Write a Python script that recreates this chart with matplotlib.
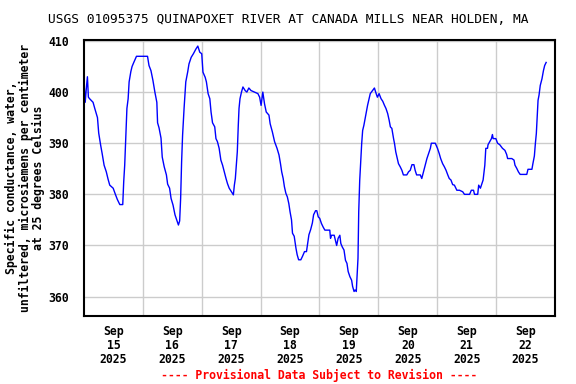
import matplotlib.pyplot as plt

# hours since Sep 15 2025 00:00 and specific conductance (uS/cm)
hours = [0, 0.5, 1.0, 1.4, 1.8, 2.3, 3.7, 4.4, 5.5, 6.0, 6.8, 7.4, 8.2, 9.1, 9.8,
         10.5, 11.9, 12.8, 13.6, 14.6, 15.8, 16.2, 16.6, 17.1, 17.5, 18.0, 18.4,
         19.1, 19.6, 20.3, 21.4, 23.5, 25.9, 26.5, 27.3, 28.1, 28.9, 29.7, 30.0,
         30.6, 31.4, 31.9, 32.7, 33.6, 34.1, 34.9, 35.5, 36.3, 37.1, 37.8, 38.5,
         39.0, 39.4, 39.8, 40.2, 40.8, 41.5, 42.3, 42.8, 43.7, 44.6, 45.6, 46.4,
         47.2, 48.0, 48.5, 49.4, 49.9, 50.6, 51.3, 51.8, 52.4, 53.3, 53.8, 54.4,
         55.1, 55.8, 56.5, 57.2, 57.9, 58.5, 59.2, 60.1, 60.9, 61.3, 61.7, 62.1,
         62.5, 62.9, 63.2, 63.6, 64.2, 64.8, 65.7, 66.4, 67.2, 68.1, 69.5, 70.9,
         71.6, 72.2, 72.9, 73.6, 74.3, 75.4, 75.9, 76.8, 77.7, 78.7, 79.5, 80.1,
         80.6, 81.2, 81.7, 82.3, 82.9, 83.5, 84.0, 84.6, 85.0, 85.7, 86.4, 86.9,
         87.5, 88.4, 89.1, 89.9, 90.7, 91.2, 91.7, 92.4, 93.1, 93.6, 94.4, 94.9,
         95.5, 96.1, 96.8, 97.5, 98.2, 100.2, 100.5, 100.9, 102.0, 102.5, 103.0,
         103.6, 104.3, 104.7, 105.3, 106.0, 106.6, 107.2, 107.7, 108.4, 109.1,
         109.5, 110.1, 110.5, 111.0, 111.3, 111.7, 112.0, 112.4, 112.8, 113.2,
         113.6, 114.1, 114.6, 115.1, 115.6, 116.2, 116.7, 117.6, 118.4, 118.9,
         119.6, 120.3, 121.1, 121.8, 122.5, 123.1, 123.8, 124.4, 124.9, 125.5,
         126.2, 126.6, 127.1, 127.7, 128.2, 128.9, 129.6, 130.2, 131.6, 132.3,
         133.0, 133.7, 134.5, 135.0, 135.6, 137.1, 137.7, 138.4, 139.1, 139.8,
         140.5, 141.2, 141.6, 143.2, 144.1, 144.8, 145.4, 146.2, 146.9, 147.6,
         148.3, 148.9, 149.6, 150.3, 151.0, 152.0, 153.1, 154.4, 155.1, 157.2,
         157.9, 158.8, 159.2, 160.5, 160.9, 161.6, 162.0, 162.7, 163.4, 163.8,
         164.5, 164.7, 165.4, 166.1, 166.5, 166.8, 167.9, 168.6, 169.5, 170.6,
         171.6, 172.3, 172.7, 174.4, 175.3, 175.7, 176.4, 177.1, 177.8, 180.5,
         181.0, 182.6, 183.0, 183.6, 184.0, 184.4, 184.7, 185.1, 185.5, 186.0,
         186.7, 187.3, 187.8, 188.4]
values = [402, 398, 401, 403, 399, 398.7, 398, 396.8, 395, 392, 389.6, 388, 385.7,
          384.4, 383, 381.8, 381.2, 380, 379, 378, 378, 382.5, 385.7, 391.6, 396.8,
          398.7, 402, 404, 405, 405.8, 407, 407, 407, 405.2, 404.2, 402.3, 400, 398,
          394, 393, 391, 387.3, 385.4, 383.8, 382, 381.2, 379.2, 377.9, 376, 375,
          374, 374.8, 379.2, 386.4, 391.6, 396.8, 402, 404, 405.5, 406.8, 407.5,
          408.4, 409, 407.8, 407.5, 403.9, 402.9, 402, 399.7, 398.7, 396.1, 394,
          393.2, 390.9, 390.3, 389, 386.7, 385.7, 384.4, 383.1, 382.1, 381.2, 380.5,
          379.9, 381.8, 383.1, 385.7, 388.3, 393.5, 396.8, 398.7, 400, 401, 400.3,
          400, 400.8, 400.3, 400, 399.7, 399, 397.4, 400, 397.7, 396.1, 395.5, 393.8,
          392.2, 390.3, 389, 387.7, 386, 384.4, 383.1, 381.5, 380.2, 379.5, 378.2,
          376.6, 375, 372.4, 371.8, 369.5, 368.2, 367.2, 367.2, 367.9, 368.8, 368.8,
          370.5, 372.1, 373.1, 374.4, 376, 376.8, 376.8, 375.6, 375.3, 374.3, 373.6,
          373, 373, 371.4, 372, 372, 371, 370, 371.4, 372, 370.4, 369.7, 369.1,
          367.1, 366.5, 364.9, 363.9, 363.2, 362, 361, 361.3, 361, 363.9, 367.5,
          376.6, 382.7, 386.4, 389.9, 392.5, 393.5, 394.8, 396.1, 397.4, 398.7,
          399.7, 400.3, 400.8, 400, 399, 399.7, 398.7, 398.2, 397.4, 396.8, 395.8,
          394.5, 393.2, 392.9, 390.9, 389.9, 388.3, 387, 386, 385.4, 384.7, 383.8,
          383.8, 384.4, 384.7, 385.8, 385.8, 384.7, 383.8, 383.8, 383.1, 384.4,
          385.7, 387, 388, 389, 390, 390, 389, 388, 387, 386, 385.4, 384.7, 383.8,
          383.1, 382.8, 381.9, 381.8, 380.8, 380.8, 380.5, 380, 380, 380.8, 380.8,
          380, 380, 381.8, 381.2, 381.8, 382.8, 385.7, 389, 389, 389.7, 390.3, 390.9,
          391.7, 390.9, 390.9, 390, 389.7, 389, 388.6, 387.8, 387, 387, 386.7, 385.7,
          385.1, 384.4, 383.9, 383.9, 384.9, 384.9, 386, 387.5, 389.9, 391.9, 394.8,
          398.4, 399.4, 401.3, 402.6, 404.2, 405.2, 405.8]

day_labels = ['Sep\n15\n2025', 'Sep\n16\n2025', 'Sep\n17\n2025', 'Sep\n18\n2025',
              'Sep\n19\n2025', 'Sep\n20\n2025', 'Sep\n21\n2025', 'Sep\n22\n2025']
y_ticks = [360, 370, 380, 390, 400, 410]

mono = 'DejaVu Sans Mono'

fig = plt.figure(figsize=(5.76, 3.84), dpi=100)
ax = fig.add_axes([0.1458, 0.177, 0.8177, 0.719])

ax.plot(hours, values, color='#0000ff', linewidth=1.0)

ax.set_xlim(0, 192)
ax.set_ylim(356.2, 410.2)

# gridlines at midnight, labels at noon
ax.set_xticks([24 * i for i in range(1, 8)])
ax.set_xticklabels([])
ax.set_xticks([12 + 24 * i for i in range(8)], minor=True)
ax.set_xticklabels(day_labels, minor=True, fontfamily=mono, fontweight='bold',
                   fontsize=8.3, linespacing=1.1)
ax.set_yticks(y_ticks)
ax.set_yticklabels([str(v) for v in y_ticks], fontfamily=mono, fontweight='bold',
                   fontsize=8.3)
ax.tick_params(axis='both', which='both', length=0)
ax.tick_params(axis='x', which='minor', pad=6.5)
ax.tick_params(axis='y', pad=10.5)

ax.grid(True, which='major', color='#cccccc', linewidth=1.0)
ax.set_axisbelow(True)
for s in ax.spines.values():
    s.set_linewidth(1.5)

fig.text(0.0434, 0.536,
         'Specific conductance, water,\nunfiltered, microsiemens per centimeter\nat 25 degrees Celsius',
         rotation=90, ha='center', va='center', multialignment='center',
         fontfamily=mono, fontweight='bold', fontsize=8.3, linespacing=1.05)

fig.text(0.5, 0.95, 'USGS 01095375 QUINAPOXET RIVER AT CANADA MILLS NEAR HOLDEN, MA',
         ha='center', va='center', fontfamily=mono, fontsize=9.3)
fig.text(0.5546, 0.023, '---- Provisional Data Subject to Revision ----',
         ha='center', va='center', fontfamily=mono, fontweight='bold', fontsize=8.3,
         color='red')

fig.savefig('out.png', dpi=100)
